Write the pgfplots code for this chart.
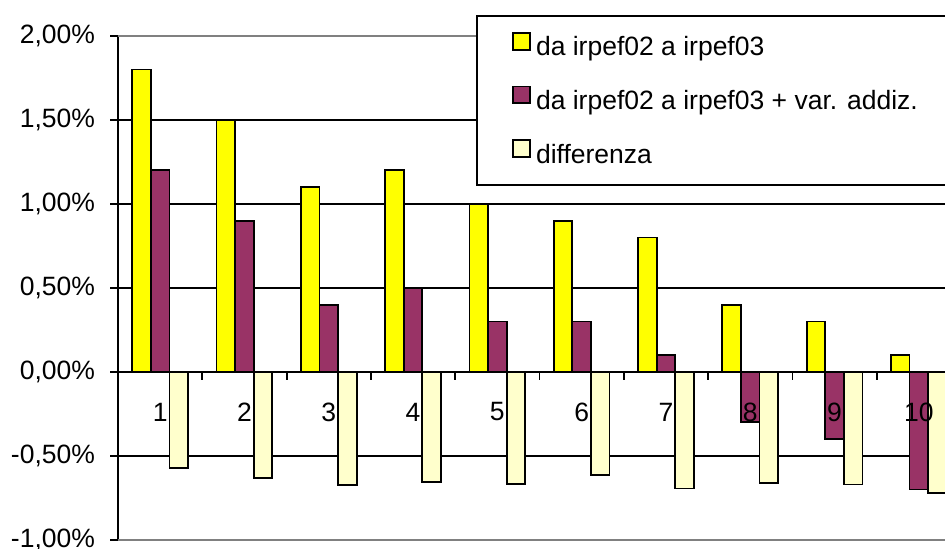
\documentclass[border=0pt]{standalone}
\usepackage{fontspec}
\setmainfont{Liberation Sans}
\usepackage{pgfplots}
\pgfplotsset{compat=1.18}
\definecolor{cyellow}{RGB}{255,255,0}
\definecolor{cpurple}{RGB}{153,51,102}
\definecolor{ccream}{RGB}{255,255,204}
\definecolor{cgray}{RGB}{128,128,128}
\newcommand{\fs}{\fontsize{13.25}{15.9}\selectfont}
\pgfplotsset{
  legsq/.style={legend image code/.code={\draw[##1,line width=0.9pt] (0pt,-0.3pt) rectangle (8.4pt,8.1pt);}},
}
\begin{document}
\begin{tikzpicture}
\begin{axis}[
  at={(59pt,4.5pt)}, anchor=south west,
  scale only axis, width=413.5pt, height=252pt,
  xmin=0.5, xmax=10.31, ymin=-1, ymax=2,
  axis y line*=left, axis x line*=middle,
  axis line style={black, line width=1pt, -},
  /pgf/number format/assume math mode=true,
  ybar, bar width=9.3pt,
  xtick={1.5,2.5,...,9.5}, xticklabel={\mbox{}},
  ytick={-0.5,0,0.5,1,1.5},
  extra y ticks={-1,2},
  extra y tick style={major grid style={cgray, line width=1.1pt}},
  yticklabel={\pgfmathprintnumber[fixed,fixed zerofill,precision=2,use comma]{\tick}\%},
  yticklabel style={font=\fs, xshift=-4pt},
  tick align=outside, major tick length=4pt,
  tick style={black, line width=0.9pt},
  ymajorgrids, major grid style={black, line width=0.75pt},
  legend cell align=left,
  legend style={at={(rel axis cs:0.4329,1.0417)}, anchor=north west,
    draw=black, line width=1pt, fill=white, font=\fs,
    inner xsep=17.6pt, inner ysep=8pt, row sep=12.1pt,
    nodes={inner sep=0pt, text height=9.6pt, text depth=2.8pt},
    /tikz/every odd column/.style={column sep=2.6pt}},
]
\addplot[legsq, draw=black, line width=0.9pt, fill=cyellow, bar shift=-9.3pt] coordinates {
(1,1.8) (2,1.5) (3,1.1) (4,1.2) (5,1.0) (6,0.9) (7,0.8) (8,0.4) (9,0.3) (10,0.1)};
\addlegendentry{\makebox[205pt][l]{da irpef02 a irpef03}}
\addplot[legsq, draw=black, line width=0.9pt, fill=cpurple, bar shift=0pt] coordinates {
(1,1.2) (2,0.9) (3,0.4) (4,0.5) (5,0.3) (6,0.3) (7,0.1) (8,-0.3) (9,-0.4) (10,-0.7)};
\addlegendentry{\makebox[205pt][l]{da irpef02 a irpef03 + var. addiz.}}
\addplot[legsq, draw=black, line width=0.9pt, fill=ccream, bar shift=9.3pt] coordinates {
(1,-0.573) (2,-0.633) (3,-0.673) (4,-0.655) (5,-0.665) (6,-0.613) (7,-0.694) (8,-0.66) (9,-0.67) (10,-0.72)};
\addlegendentry{\makebox[205pt][l]{differenza}}
% category labels, drawn last so that they lie on top of the bars
\addplot[forget plot, draw=none, fill=none, bar shift=0pt,
  point meta=explicit symbolic, nodes near coords,
  every node near coord/.style={font=\fs, anchor=center, inner sep=0pt, yshift=-20pt}]
  coordinates {(1,0)[1] (2,0)[2] (3,0)[3] (4,0)[4] (5,0)[5] (6,0)[6] (7,0)[7] (8,0)[8] (9,0)[9] (10,0)[10]};
\end{axis}
\pgfresetboundingbox
\useasboundingbox (0,0) rectangle (472.5pt,274.5pt);
\end{tikzpicture}
\end{document}
